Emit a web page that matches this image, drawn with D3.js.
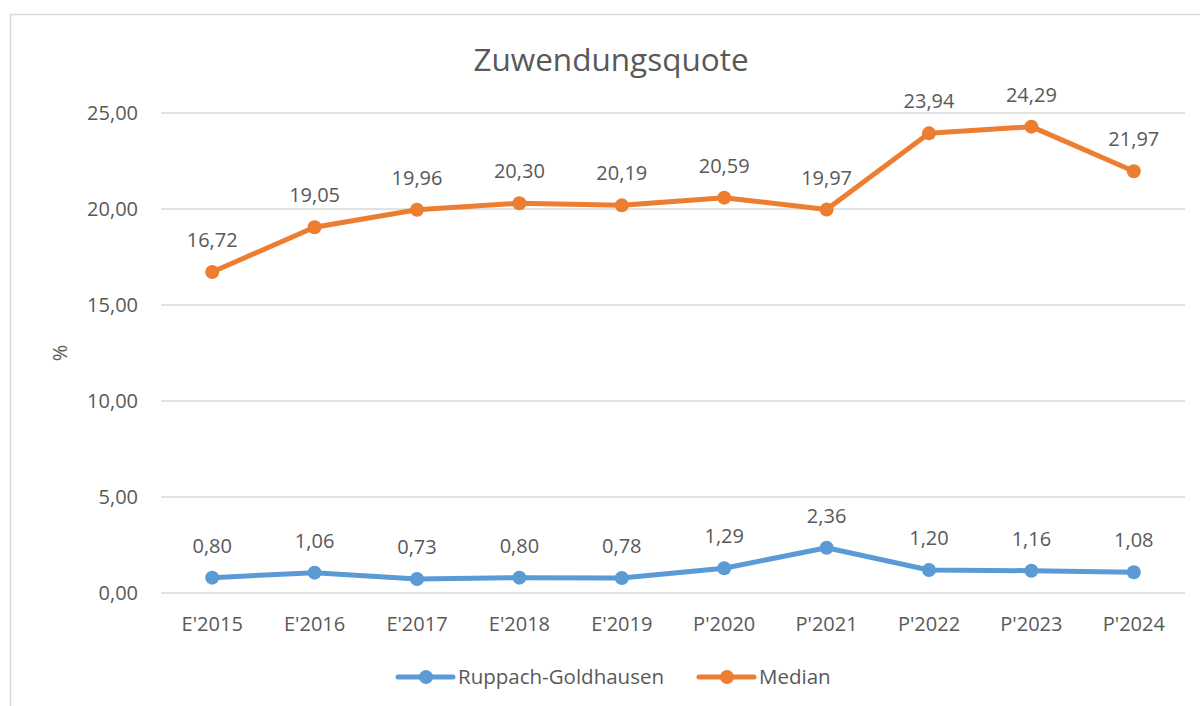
<!DOCTYPE html>
<html>
<head>
<meta charset="utf-8">
<script src="https://cdn.jsdelivr.net/npm/d3@7"></script>
<style>
  body { margin: 0; background: #fff; }
  svg { font-family: "Open Sans", sans-serif; }
</style>
</head>
<body>
<div id="chart"></div>
<script>
// data
const categories = ["E'2015", "E'2016", "E'2017", "E'2018", "E'2019", "P'2020", "P'2021", "P'2022", "P'2023", "P'2024"];
const ruppach = [0.80, 1.06, 0.73, 0.80, 0.78, 1.29, 2.36, 1.20, 1.16, 1.08];
const median = [16.72, 19.05, 19.96, 20.30, 20.19, 20.59, 19.97, 23.94, 24.29, 21.97];
const yTicks = [0, 5, 10, 15, 20, 25];
const seriesNames = ["Ruppach-Goldhausen", "Median"];
const colors = ["#5b9bd5", "#ed7d31"];

const W = 1200, H = 706;
const margin = {top: 113, right: 15, bottom: 113, left: 161};
const width = 1185 - margin.left, height = 593 - margin.top;
const fmt = v => v.toFixed(2).replace(".", ",");
const textColor = "#595959";

const svg = d3.select("#chart").append("svg")
    .attr("width", W)
    .attr("height", H);

// chart border
svg.append("rect")
    .attr("x", 10.5).attr("y", 14.5)
    .attr("width", 1200).attr("height", 700)
    .attr("fill", "none")
    .attr("stroke", "#d9d9d9")
    .attr("stroke-width", 1.5);

// title
svg.append("text")
    .attr("x", 611).attr("y", 71)
    .attr("text-anchor", "middle")
    .attr("font-size", 31.5)
    .attr("fill", textColor)
    .text("Zuwendungsquote");

const g = svg.append("g")
    .attr("transform", `translate(${margin.left},${margin.top})`);

const x = d3.scaleBand().domain(categories).range([0, width]);
const y = d3.scaleLinear().domain([0, 25]).range([height, 0]);

// gridlines
g.append("g")
    .selectAll("line")
    .data(yTicks)
    .join("line")
    .attr("x1", 0).attr("x2", width)
    .attr("y1", d => y(d)).attr("y2", d => y(d))
    .attr("stroke", "#d9d9d9")
    .attr("stroke-width", 1.5);

// y axis
const yAxis = g.append("g")
    .call(d3.axisLeft(y).tickValues(yTicks).tickFormat(fmt).tickSize(0).tickPadding(23));
yAxis.select(".domain").remove();
yAxis.selectAll("text")
    .attr("font-size", 20)
    .attr("font-family", "Open Sans, sans-serif")
    .attr("fill", textColor);

// x axis
const xAxis = g.append("g")
    .attr("transform", `translate(0,${height})`)
    .call(d3.axisBottom(x).tickSize(0).tickPadding(24));
xAxis.select(".domain").remove();
xAxis.selectAll("text")
    .attr("font-size", 20)
    .attr("font-family", "Open Sans, sans-serif")
    .attr("fill", textColor);

// y label
svg.append("text")
    .attr("transform", "translate(67,353) rotate(-90)")
    .attr("text-anchor", "middle")
    .attr("font-size", 20)
    .attr("fill", textColor)
    .text("%");

const cx = d => x(d) + x.bandwidth() / 2;
const line = d3.line()
    .x((d, i) => cx(categories[i]))
    .y(d => y(d));

[ruppach, median].forEach((vals, si) => {
    g.append("path")
        .datum(vals)
        .attr("fill", "none")
        .attr("stroke", colors[si])
        .attr("stroke-width", 5)
        .attr("stroke-linejoin", "round")
        .attr("stroke-linecap", "round")
        .attr("d", line);

    g.append("g")
        .selectAll("circle")
        .data(vals)
        .join("circle")
        .attr("cx", (d, i) => cx(categories[i]))
        .attr("cy", d => y(d))
        .attr("r", 7)
        .attr("fill", colors[si]);

    g.append("g")
        .selectAll("text")
        .data(vals)
        .join("text")
        .attr("x", (d, i) => cx(categories[i]))
        .attr("y", d => y(d) - 25)
        .attr("text-anchor", "middle")
        .attr("font-size", 20)
        .attr("fill", textColor)
        .text(fmt);
});

// legend
const legendItems = [
    {name: seriesNames[0], color: colors[0], x: 398},
    {name: seriesNames[1], color: colors[1], x: 699}
];
const lg = svg.append("g");
legendItems.forEach(it => {
    lg.append("line")
        .attr("x1", it.x).attr("x2", it.x + 55)
        .attr("y1", 677).attr("y2", 677)
        .attr("stroke", it.color)
        .attr("stroke-width", 5)
        .attr("stroke-linecap", "round");
    lg.append("circle")
        .attr("cx", it.x + 28).attr("cy", 677)
        .attr("r", 7)
        .attr("fill", it.color);
    lg.append("text")
        .attr("x", it.x + 60).attr("y", 684)
        .attr("font-size", 20.5)
        .attr("fill", textColor)
        .text(it.name);
});
</script>
</body>
</html>
